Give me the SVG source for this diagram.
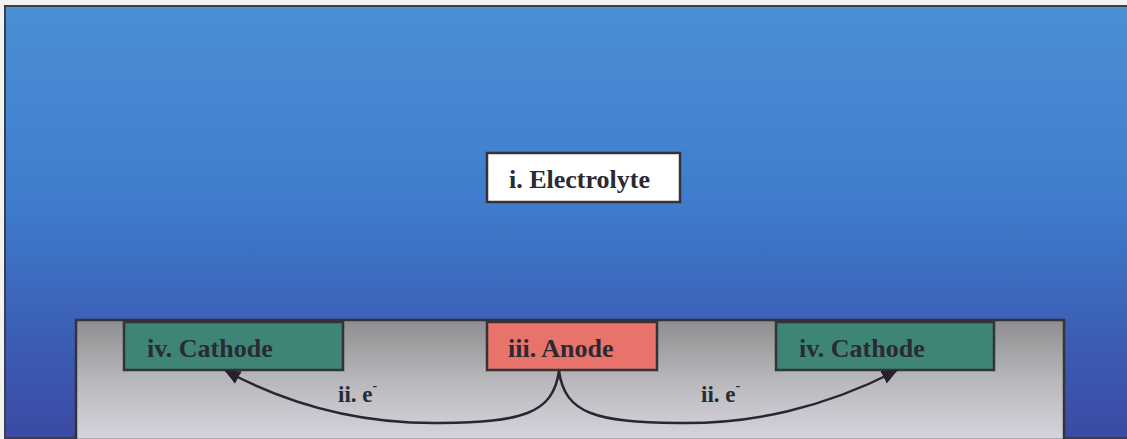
<svg xmlns="http://www.w3.org/2000/svg" width="1127" height="439" viewBox="0 0 1127 439">
<defs>
<linearGradient id="blue" x1="0" y1="0" x2="0" y2="1">
<stop offset="0" stop-color="#4a8fd4"/>
<stop offset="0.45" stop-color="#3f7dcc"/>
<stop offset="0.75" stop-color="#3b5fb6"/>
<stop offset="1" stop-color="#3b4aa3"/>
</linearGradient>
<linearGradient id="gray" x1="0" y1="0" x2="0" y2="1">
<stop offset="0" stop-color="#8e8e90"/>
<stop offset="0.5" stop-color="#b8b8bc"/>
<stop offset="1" stop-color="#d4d4dc"/>
</linearGradient>
<marker id="arrow" markerWidth="16" markerHeight="14" refX="14" refY="7" orient="auto" markerUnits="userSpaceOnUse">
<path d="M0,0 L16,7 L0,14 Z" fill="#2a1f2c"/>
</marker>
</defs>
<style>
.lbl{font-family:"Liberation Serif","Times New Roman",serif;font-weight:bold;fill:#2a2a33}
.big{font-size:26px}
.small{font-size:23px}
.box{stroke:#333338;stroke-width:2.5}
.conn{fill:none;stroke:#2a2530;stroke-width:2.5}
</style>
<rect x="0" y="0" width="1127" height="439" fill="#f2f2f2"/>
<g id="electrolyte-bg">
<rect x="5" y="6" width="1124" height="432" fill="url(#blue)" stroke="#3a3f4a" stroke-width="2"/>
</g>
<g id="substrate">
<rect x="76" y="320" width="988" height="120" fill="url(#gray)" stroke="#333338" stroke-width="2.5"/>
</g>
<g id="electrolyte">
<rect class="box" x="487" y="153" width="193" height="49" fill="#ffffff"/>
<text class="lbl big" x="509" y="188">i. Electrolyte</text>
</g>
<g id="cathode-left">
<rect class="box" x="124" y="322" width="219" height="48" fill="#3e8577"/>
<text class="lbl big" x="147" y="357">iv. Cathode</text>
</g>
<g id="anode">
<rect class="box" x="487" y="322" width="170" height="48" fill="#e8736a"/>
<text class="lbl big" x="508" y="357">iii. Anode</text>
</g>
<g id="cathode-right">
<rect class="box" x="776" y="322" width="218" height="48" fill="#3e8577"/>
<text class="lbl big" x="799" y="357">iv. Cathode</text>
</g>
<g id="connectors">
<path class="conn" d="M559,371 C553,414 522,422 440,423 C365,424 295,408 226,371" marker-end="url(#arrow)"/>
<path class="conn" d="M559,371 C565,414 596,422 678,423 C753,424 823,408 896,371" marker-end="url(#arrow)"/>
<text class="lbl small" x="338" y="402">ii. e<tspan font-size="14" dy="-12">-</tspan></text>
<text class="lbl small" x="701" y="402">ii. e<tspan font-size="14" dy="-12">-</tspan></text>
</g>
</svg>
